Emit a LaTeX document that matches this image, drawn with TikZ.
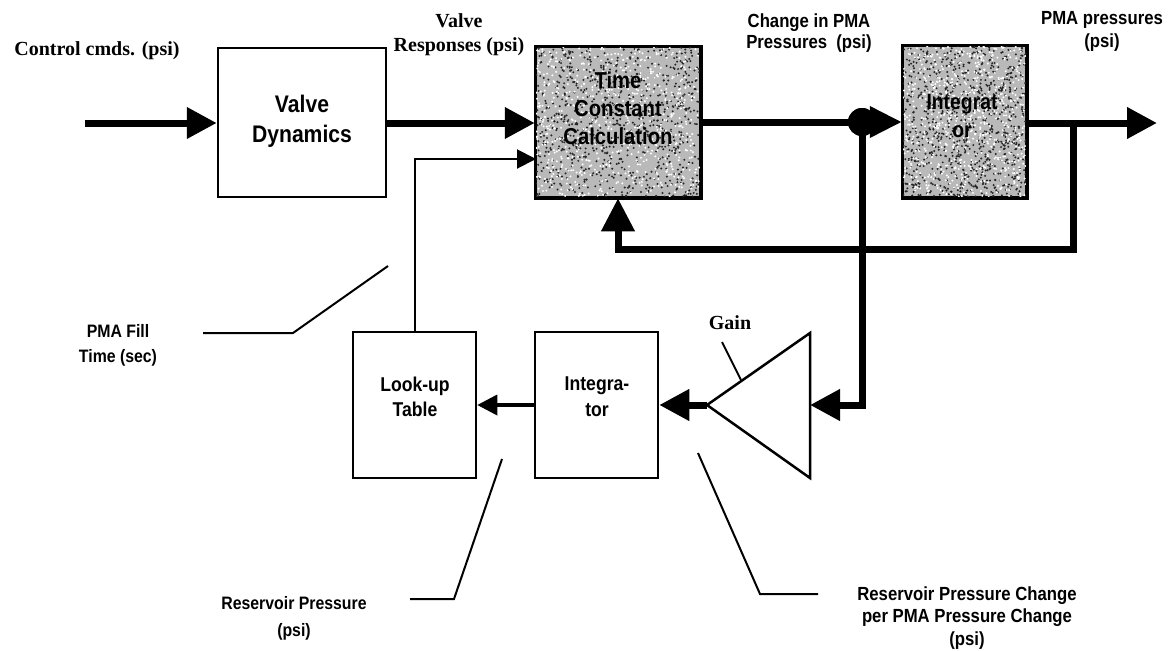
\documentclass[tikz,border=0pt]{standalone}
\usepackage{fontspec}
\setmainfont{Liberation Serif}
\newfontfamily\lblsans[FakeStretch=0.88]{Liberation Sans}
\usetikzlibrary{arrows.meta,calc}

\tikzset{
  blockbox/.style={draw, line width=2.5pt, inner sep=0pt},
  shadedbox/.style={blockbox, fill=gray!55},
  serlbl/.style={font=\bfseries\fontsize{20}{24}\selectfont, align=center, inner sep=0pt},
  sanlbl/.style={font=\lblsans\bfseries\fontsize{19}{23}\selectfont, align=center, inner sep=0pt},
  bigtxt/.style={font=\lblsans\bfseries\fontsize{24}{30}\selectfont, align=center, inner sep=0pt},
  midtxt/.style={font=\lblsans\bfseries\fontsize{20}{26}\selectfont, align=center, inner sep=0pt},
  heavy/.style={line width=7pt},
  fine/.style={line width=2pt},
  leader/.style={line width=2pt},
  bigtip/.style={-{Triangle[length=30pt,width=30pt]}},
  smalltip/.style={-{Triangle[length=19pt,width=19pt]}},
}

% random black/white stipple inside a rectangle
\newcommand{\speckle}[4]{%
  \begin{scope}
    \clip (#1,#2) rectangle (#3,#4);
    \foreach \k in {1,...,900}{
      \fill[black!85] ({#1+(#3-#1)*rnd},{#2+(#4-#2)*rnd}) circle (1.1pt);
    }
    \foreach \k in {1,...,700}{
      \fill[white] ({#1+(#3-#1)*rnd},{#2+(#4-#2)*rnd}) circle (1.1pt);
    }
  \end{scope}}

\begin{document}
\begin{tikzpicture}[x=1pt,y=-1pt]
\useasboundingbox (0,0) rectangle (1171,651);
\pgfmathsetseed{11}

% ---- blocks ----
\node[blockbox, minimum width=168pt, minimum height=149pt] (valve) at (302,122.5) {};
\node[shadedbox, minimum width=164pt, minimum height=150pt] (tc) at (618,122) {};
\speckle{536}{47}{700}{197}
\draw[line width=2.5pt] (tc.south west) rectangle (tc.north east);
\node[shadedbox, minimum width=123pt, minimum height=151pt] (ig) at (964.5,121.5) {};
\speckle{903}{46}{1026}{197}
\draw[line width=2.5pt] (ig.south west) rectangle (ig.north east);
\node[blockbox, minimum width=123pt, minimum height=146pt] (lut) at (414.5,405) {};
\node[blockbox, minimum width=123pt, minimum height=146pt] (rint) at (596.5,405) {};

% gain triangle
\coordinate (gtip) at (707,405);
\coordinate (gin) at (810,405);
\coordinate (gtop) at (810,333);
\coordinate (gbot) at (810,478);
\draw[line width=2.5pt, line join=miter] (gtop) -- (gtip) -- (gbot) -- cycle;

% ---- block texts ----
\node[bigtxt] (valvetxt) at (302,121) {Valve\\Dynamics};
\node[bigtxt, font=\lblsans\bfseries\fontsize{23}{28}\selectfont] (tctxt) at (618,108) {Time\\Constant\\Calculation};
\node[bigtxt, font=\lblsans\bfseries\fontsize{22}{28}\selectfont] (igtxt) at (962,116) {Integrat\\or};
\node[midtxt, font=\lblsans\bfseries\fontsize{20}{25}\selectfont] (luttxt) at (415,397) {Look-up\\Table};
\node[midtxt] (rinttxt) at (597,397) {Integra-\\tor};

% ---- signal labels ----
\node[serlbl] (ctrl) at (97,51) {Control cmds. (psi)};
\node[serlbl] (vresp) at (459,35) {Valve\\Responses (psi)};
\node[sanlbl, font=\lblsans\bfseries\fontsize{19}{21.5}\selectfont] (chg) at (809,33) {Change in PMA\\Pressures~ (psi)};
\node[sanlbl] (pmap) at (1102,31) {PMA pressures\\(psi)};
\node[sanlbl, font=\lblsans\bfseries\fontsize{18}{25}\selectfont] (fill) at (118,345) {PMA Fill\\Time (sec)};
\node[sanlbl, font=\lblsans\bfseries\fontsize{18}{27}\selectfont] (resp) at (294,618) {Reservoir Pressure\\(psi)};
\node[sanlbl, font=\lblsans\bfseries\fontsize{19}{22.5}\selectfont] (rpc) at (967,618) {Reservoir Pressure Change\\per PMA Pressure Change\\(psi)};
\node[serlbl] (gain) at (730,323) {Gain};

% ---- main signal path ----
\coordinate (cin) at (85,123);
\draw[heavy, bigtip] (cin) -- (valve.west |- cin);
\draw[heavy, bigtip] (valve.east |- cin) -- (tc.west |- cin);

\coordinate (tcin2) at (536,159);
\draw[fine, smalltip] (lut.north) |- (tcin2);

\node[circle, fill=black, inner sep=0pt, minimum size=28pt] (dot) at (862,122) {};
\draw[heavy] (tc.east |- dot) -- (dot.center);
\draw[heavy, -{Triangle[length=32pt,width=30pt]}] (dot.center) -- (ig.west |- dot);
\node[circle, fill=black, inner sep=0pt, minimum size=28pt] at (dot) {};

\coordinate (out) at (1157,123);
\coordinate (br) at (1073,123);
\coordinate (fb) at (1073,249);
\draw[heavy, bigtip] (ig.east |- out) -- (out);
\draw[heavy, -{Triangle[length=33pt,width=32pt]}, line join=miter] (br) -- (fb) -| (tc.south);

\draw[heavy, bigtip, line join=miter] (dot.center) |- (gin);
\draw[heavy, bigtip] (gtip) -- (rint.east |- gtip);
\draw[line width=3.5pt, -{Triangle[length=20pt,width=20pt]}] (rint.west |- gtip) -- (lut.east |- gtip);

% ---- leader lines ----
\draw[leader] (722,342) -- (741,380);
\draw[leader] (203,333) -- (293,333) -- (388,266);
\draw[leader] (410,599) -- (454,599) -- (502,459);
\draw[leader] (698,453) -- (760,594) -- (818,594);
\end{tikzpicture}
\end{document}
